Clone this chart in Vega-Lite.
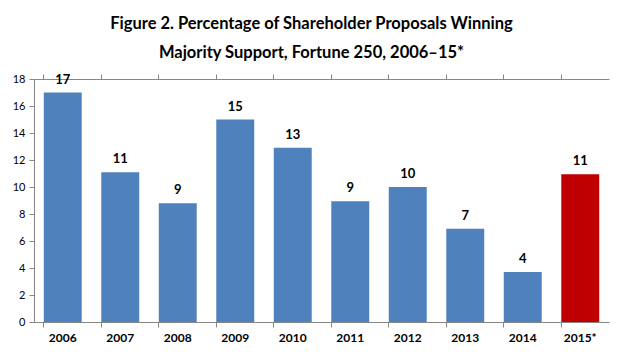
{
  "$schema": "https://vega.github.io/schema/vega-lite/v6.json",
  "width": 575,
  "height": 243,
  "autosize": {"type": "none"},
  "padding": {"left": 34, "top": 79, "right": 15, "bottom": 35},
  "background": "white",
  "config": {"view": {"stroke": null}, "font": "Lato"},
  "title": {
    "text": ["Figure 2. Percentage of Shareholder Proposals Winning", "Majority Support, Fortune 250, 2006–15*"],
    "fontSize": 16.5,
    "fontWeight": "bold",
    "font": "Lato",
    "color": "#000000",
    "lineHeight": 29,
    "anchor": "middle",
    "frame": "group",
    "dx": -10,
    "offset": 12
  },
  "data": {
    "values": [
      {"year": "2006", "value": 17.0, "label": 17, "group": "past"},
      {"year": "2007", "value": 11.1, "label": 11, "group": "past"},
      {"year": "2008", "value": 8.8, "label": 9, "group": "past"},
      {"year": "2009", "value": 15.0, "label": 15, "group": "past"},
      {"year": "2010", "value": 12.9, "label": 13, "group": "past"},
      {"year": "2011", "value": 8.95, "label": 9, "group": "past"},
      {"year": "2012", "value": 10.0, "label": 10, "group": "past"},
      {"year": "2013", "value": 6.9, "label": 7, "group": "past"},
      {"year": "2014", "value": 3.7, "label": 4, "group": "past"},
      {"year": "2015*", "value": 10.95, "label": 11, "group": "current"}
    ]
  },
  "encoding": {
    "x": {
      "field": "year",
      "type": "nominal",
      "sort": null,
      "scale": {"paddingInner": 0.34, "paddingOuter": 0.17},
      "axis": {
        "title": null,
        "labelAngle": 0,
        "domainColor": "#868686",
        "tickColor": "#868686",
        "tickSize": 5,
        "bandPosition": 0,
        "labels": false
      }
    },
    "y": {
      "field": "value",
      "type": "quantitative",
      "scale": {"domain": [0, 18]},
      "axis": {
        "title": null,
        "values": [0, 2, 4, 6, 8, 10, 12, 14, 16, 18],
        "grid": false,
        "labelFontSize": 11,
        "labelColor": "#000000",
        "labelPadding": 4,
        "domainColor": "#868686",
        "tickColor": "#868686",
        "tickSize": 5
      }
    }
  },
  "layer": [
    {
      "mark": {"type": "bar"},
      "encoding": {
        "color": {
          "field": "group",
          "type": "nominal",
          "scale": {"domain": ["past", "current"], "range": ["#4F81BD", "#C00000"]},
          "legend": null
        }
      }
    },
    {
      "mark": {"type": "text", "dy": -13, "fontWeight": "bold", "fontSize": 13, "color": "#000000"},
      "encoding": {
        "text": {"field": "label", "type": "quantitative"}
      }
    },
    {
      "mark": {"type": "text", "opacity": 0},
      "encoding": {
        "x": {
          "field": "year",
          "type": "nominal",
          "sort": null,
          "axis": {
            "title": null,
            "orient": "bottom",
            "labelAngle": 0,
            "labelFontWeight": "bold",
            "labelFontSize": 12,
            "labelColor": "#000000",
            "labelPadding": 10,
            "domain": false,
            "ticks": false
          }
        },
        "text": {"field": "label", "type": "quantitative"}
      }
    }
  ],
  "resolve": {"axis": {"x": "independent"}}
}
